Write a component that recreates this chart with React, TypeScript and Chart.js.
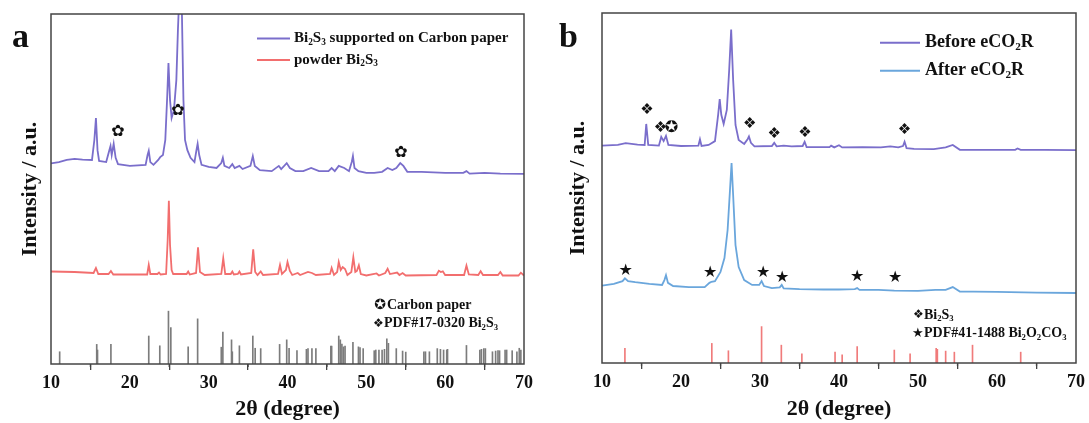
import React, { useEffect, useRef } from "react";
import { Chart, registerables } from "chart.js";

Chart.register(...registerables);

const SERIF = "'Liberation Serif', 'Times New Roman', serif";
const SYMF = "'DejaVu Sans', sans-serif";

// ---------- axis ticks ----------
const majorTicks = [10, 20, 30, 40, 50, 60, 70];
const minorTicks = [15, 25, 35, 45, 55, 65];

// ---------- panel a data (2θ, intensity a.u.) ----------
const carbonPaperBi2S3: [number, number][] = [
  [10, 57.3], [11, 57.7], [12, 58.3], [13, 58.6], [14, 58.4], [15.2, 58.3], [15.5, 64.0], [15.7, 70.3],
  [15.9, 61.1], [16.1, 58.0], [17, 57.7], [17.4, 61.1], [17.55, 62.3], [17.7, 59.7], [17.95, 62.9],
  [18.2, 58.9], [18.5, 57.1], [20, 56.6], [22, 56.9], [22.25, 59.7], [22.4, 60.9], [22.6, 57.7],
  [23, 56.9], [23.6, 58.3], [23.85, 59.1], [24.2, 59.7], [24.5, 64.0], [24.75, 76.9], [24.9, 86.0],
  [25.1, 75.4], [25.3, 70.3], [25.6, 72.6], [25.9, 81.1], [26.1, 95.4], [26.25, 104], [26.4, 125],
  [26.6, 101.1], [26.8, 75.4], [27.0, 64.0], [27.3, 61.1], [27.7, 58.9], [28.2, 57.7], [28.45, 61.1],
  [28.6, 62.9], [28.8, 59.7], [29.1, 56.9], [30, 56.3], [31, 56.0], [31.6, 57.4], [31.8, 58.9],
  [32.0, 56.6], [32.6, 56.0], [33.0, 57.1], [33.3, 56.0], [33.9, 56.6], [34.3, 55.7], [35.3, 56.6],
  [35.6, 59.4], [35.85, 56.6], [36.5, 55.4], [38, 55.1], [38.9, 56.6], [39.2, 55.7], [39.9, 57.4],
  [40.3, 56.0], [41, 55.1], [42, 55.1], [43, 56.0], [44, 55.1], [45.2, 55.1], [45.6, 56.0], [46, 55.1],
  [46.5, 56.6], [47.2, 56.0], [47.8, 55.1], [48.15, 57.7], [48.3, 59.4], [48.5, 56.0], [49, 55.1],
  [50, 54.6], [51, 54.6], [52, 54.9], [52.7, 56.0], [53.3, 55.4], [53.8, 56.0], [54.3, 57.4],
  [54.7, 56.6], [55.2, 54.9], [57, 54.9], [60, 54.6], [62.3, 54.6], [62.7, 55.1], [63.1, 54.4],
  [65, 54.6], [67, 54.4], [70, 54.3],
];

const powderBi2S3: [number, number][] = [
  [10, 26.43], [13, 26.29], [15.4, 26.0], [15.7, 27.43], [16.0, 25.71], [17.3, 25.71], [17.6, 26.57],
  [17.9, 25.57], [22.2, 25.57], [22.4, 28.29], [22.6, 25.71], [23.5, 25.71], [23.7, 26.14], [23.9, 25.57],
  [24.6, 25.71], [24.8, 35.43], [24.95, 46.66], [25.1, 34.0], [25.3, 26.86], [25.5, 25.71], [27.2, 25.71],
  [27.4, 26.43], [27.6, 25.57], [28.4, 26.0], [28.65, 33.34], [28.9, 26.29], [29.5, 25.43], [31.6, 25.71],
  [31.85, 30.2], [32.1, 25.71], [32.8, 25.71], [33.0, 26.43], [33.2, 25.57], [33.7, 25.71], [33.9, 26.43],
  [34.1, 25.57], [35.4, 26.0], [35.65, 32.77], [35.9, 26.29], [36.2, 25.43], [36.6, 26.43], [36.9, 25.43],
  [38.8, 25.71], [39.05, 28.29], [39.3, 25.71], [39.8, 26.86], [40.0, 29.14], [40.3, 26.57], [40.6, 25.43],
  [41.3, 26.0], [41.6, 25.43], [42.6, 26.29], [43.1, 26.0], [43.6, 25.43], [45.4, 25.71], [45.6, 27.43],
  [45.9, 25.43], [46.3, 26.29], [46.5, 29.14], [46.75, 26.86], [47.0, 27.71], [47.3, 27.14], [47.6, 25.43],
  [48.1, 26.29], [48.35, 30.49], [48.6, 26.29], [48.8, 26.57], [49.05, 28.2], [49.3, 25.71], [50, 25.29],
  [51.3, 25.86], [51.6, 25.29], [52.4, 26.0], [52.7, 27.23], [53.0, 25.71], [53.9, 26.14], [54.2, 25.43],
  [54.6, 26.0], [55, 25.29], [58.9, 25.43], [59.2, 26.66], [59.45, 26.29], [59.7, 26.49], [60, 25.43],
  [62.4, 25.43], [62.7, 28.09], [63.0, 25.57], [64.2, 25.43], [64.5, 26.49], [64.8, 25.43], [66.7, 25.43],
  [67.0, 26.29], [67.3, 25.29], [69.3, 25.29], [69.6, 26.09], [70, 25.29],
];

const pdf17_0320: [number, number][] = [
  [11.1, 3.5], [15.8, 5.6], [15.9, 4.0], [17.6, 5.6], [22.4, 8.0], [23.8, 5.2], [24.9, 15.1], [25.2, 10.4],
  [27.4, 4.9], [28.6, 12.9], [31.6, 4.8], [31.8, 9.1], [32.9, 6.9], [33.0, 3.5], [33.9, 5.2], [35.6, 8.0],
  [35.9, 4.5], [36.6, 4.4], [39.0, 5.6], [39.9, 6.9], [40.2, 4.5], [41.2, 3.8], [42.4, 4.2], [42.6, 4.4],
  [43.1, 4.4], [43.6, 4.4], [45.5, 5.1], [45.6, 5.1], [46.5, 8.0], [46.7, 6.9], [46.9, 5.7], [47.1, 4.9],
  [47.3, 5.1], [48.3, 6.2], [49.0, 4.9], [49.2, 4.7], [49.6, 4.4], [51.0, 3.8], [51.2, 4.0], [51.6, 4.0],
  [52.0, 4.0], [52.3, 4.2], [52.6, 7.2], [52.8, 5.9], [53.8, 4.4], [54.6, 3.7], [55.0, 3.4], [57.3, 3.5],
  [57.5, 3.5], [58.0, 3.5], [59.0, 4.4], [59.4, 4.2], [59.8, 4.0], [60.2, 4.0], [60.3, 4.2], [62.7, 5.3],
  [64.4, 4.0], [64.6, 4.2], [64.9, 4.4], [65.1, 4.4], [66.0, 3.5], [66.4, 3.7], [66.7, 3.8], [66.9, 3.8],
  [67.6, 4.0], [67.8, 4.0], [68.5, 3.8], [69.1, 3.5], [69.4, 4.5], [69.6, 4.0],
];

const carbonMarksA: [number, number][] = [[18.5, 66.2], [26.1, 72.3], [54.4, 60.2]];

// ---------- panel b data ----------
const beforeECO2R: [number, number][] = [
  [10, 62.1], [12, 62.3], [13, 62.8], [14.5, 62.4], [15.4, 62.3], [15.6, 68.3], [15.85, 62.3], [17.2, 62.1],
  [17.5, 64.6], [17.8, 63.4], [18.1, 64.9], [18.4, 62.3], [20, 62.0], [22.2, 62.1], [22.4, 63.9], [22.6, 62.0],
  [23.5, 62.3], [24.3, 63.4], [24.7, 70.9], [24.9, 75.4], [25.1, 70.9], [25.4, 68.3], [25.8, 72.3],
  [26.1, 83.7], [26.35, 95.3], [26.6, 80.9], [26.9, 68.0], [27.3, 63.7], [28.0, 62.6], [28.45, 64.0],
  [28.6, 64.7], [28.85, 62.9], [29.3, 61.9], [31.5, 62.0], [31.8, 62.9], [32.1, 61.9], [33, 62.1],
  [34, 61.9], [35.4, 62.0], [35.65, 63.2], [35.9, 61.7], [38.8, 61.7], [39.0, 62.1], [39.4, 61.6],
  [40.0, 62.2], [40.4, 61.6], [43, 61.7], [45.3, 61.6], [46.5, 61.9], [47.5, 61.6], [48.1, 62.0],
  [48.3, 63.2], [48.55, 61.4], [49.5, 61.2], [52, 61.1], [53.5, 61.6], [54.4, 62.3], [55.3, 60.9],
  [58, 60.9], [62.3, 60.9], [62.6, 61.3], [63, 60.9], [66, 60.9], [70, 60.8],
];

const afterECO2R: [number, number][] = [
  [10, 22.1], [11.5, 22.6], [12.6, 23.4], [12.9, 24.2], [13.3, 23.4], [14.2, 23.1], [16, 22.6], [17.6, 22.3],
  [17.9, 23.7], [18.1, 25.1], [18.35, 22.9], [19, 22.0], [21, 21.7], [23, 21.7], [23.6, 22.9], [23.85, 23.2],
  [24.3, 23.4], [25, 26.0], [25.5, 30.0], [25.9, 38.0], [26.2, 49.4], [26.4, 57.1], [26.6, 48.0],
  [26.9, 33.7], [27.3, 27.4], [28, 23.7], [29, 22.3], [29.9, 22.3], [30.2, 23.4], [30.5, 22.0],
  [31.5, 21.4], [32.5, 21.6], [32.75, 22.3], [33.0, 21.3], [35, 21.1], [38, 21.0], [40, 21.0], [42, 21.1],
  [42.3, 21.4], [42.6, 20.9], [45, 20.9], [47, 20.7], [50, 20.6], [52.2, 20.9], [53.5, 20.9], [54.4, 21.7],
  [55.3, 20.4], [57, 20.4], [60, 20.3], [65, 20.1], [70, 20.0],
];

const pdf41_1488: [number, number][] = [
  [12.9, 4.2], [23.9, 5.6], [26.0, 3.5], [30.2, 10.4], [32.7, 5.1], [35.3, 2.6], [39.5, 3.1], [40.4, 2.3],
  [42.3, 4.7], [47.0, 3.7], [49.0, 2.6], [52.3, 4.2], [52.45, 3.9], [53.5, 3.4], [54.6, 3.1], [56.9, 5.1],
  [63.0, 3.1],
];

const bi2s3MarksB: [number, number][] = [[15.7, 72.3], [17.4, 67.2], [28.7, 68.2], [31.8, 65.3], [35.7, 65.6], [48.3, 66.6]];
const carbonMarksB: [number, number][] = [[18.8, 67.2]];
const bi2o2co3MarksB: [number, number][] = [[13.0, 26.3], [23.7, 25.8], [30.4, 25.8], [32.8, 24.4], [42.3, 24.7], [47.1, 24.2]];

// ---------- colours ----------
const PURPLE = "#7a6ecb";
const RED = "#f26e6e";
const BLUE = "#6aa6dc";
const GRAY_STICK = "#7c7c7c";
const RED_STICK = "#f07b7b";

type Seg = [string, boolean];

function drawRich(ctx: CanvasRenderingContext2D, segs: Seg[], x: number, y: number, size: number) {
  let cx = x;
  ctx.textAlign = "left";
  ctx.textBaseline = "middle";
  for (const [t, sub] of segs) {
    const fs = sub ? size * 0.62 : size;
    ctx.font = `bold ${fs}px ${SERIF}`;
    ctx.fillText(t, cx, sub ? y + size * 0.27 : y);
    cx += ctx.measureText(t).width;
  }
}

interface PanelCfg {
  letter: string;
  letterX: number;
  legend: { color: string; segs: Seg[]; y: number }[];
  legendLineX: [number, number];
  legendTextX: number;
  legendSize: number;
  refLegend: { sym: string; symX: number; symSize: number; segs: Seg[]; textX: number; y: number }[];
  marks: { sym: string; size: number; pts: [number, number][] }[];
}

function makePlugin(cfg: PanelCfg) {
  return {
    id: "decor" + cfg.letter,
    afterDraw(chart: any) {
      const { ctx, chartArea } = chart;
      const { left, top, right, bottom } = chartArea;
      const xs = chart.scales.x;
      const ys = chart.scales.y;
      ctx.save();
      // frame
      ctx.strokeStyle = "#444";
      ctx.lineWidth = 1.5;
      ctx.strokeRect(left, top, right - left, bottom - top);
      // minor ticks
      ctx.lineWidth = 1.3;
      for (const t of minorTicks) {
        const px = xs.getPixelForValue(t);
        ctx.beginPath();
        ctx.moveTo(px, bottom);
        ctx.lineTo(px, bottom + 3);
        ctx.stroke();
      }
      // panel letter
      ctx.fillStyle = "#111";
      ctx.font = `bold 34px ${SERIF}`;
      ctx.textAlign = "left";
      ctx.textBaseline = "alphabetic";
      ctx.fillText(cfg.letter, cfg.letterX, 47);
      // series legend
      for (const item of cfg.legend) {
        ctx.strokeStyle = item.color;
        ctx.lineWidth = 2;
        ctx.beginPath();
        ctx.moveTo(cfg.legendLineX[0], item.y);
        ctx.lineTo(cfg.legendLineX[1], item.y);
        ctx.stroke();
        ctx.fillStyle = "#111";
        drawRich(ctx, item.segs, cfg.legendTextX, item.y, cfg.legendSize);
      }
      // reference legend
      for (const r of cfg.refLegend) {
        ctx.fillStyle = "#111";
        ctx.font = `bold ${r.symSize}px ${SYMF}`;
        ctx.textAlign = "center";
        ctx.textBaseline = "middle";
        ctx.fillText(r.sym, r.symX, r.y);
        drawRich(ctx, r.segs, r.textX, r.y, 14);
      }
      // peak markers
      for (const m of cfg.marks) {
        ctx.font = `bold ${m.size}px ${SYMF}`;
        ctx.textAlign = "center";
        ctx.textBaseline = "middle";
        ctx.fillStyle = "#111";
        for (const [dx, dy] of m.pts) {
          ctx.fillText(m.sym, xs.getPixelForValue(dx), ys.getPixelForValue(dy));
        }
      }
      ctx.restore();
    },
  };
}

function buildChart(
  canvas: HTMLCanvasElement,
  lines: { data: [number, number][]; color: string }[],
  sticks: { data: [number, number][]; color: string },
  pad: { top: number; right: number },
  yWidth: number,
  xHeight: number,
  yTitlePad: number,
  cfg: PanelCfg
) {
  const datasets: any[] = lines.map((l, i) => ({
    type: "line",
    data: l.data.map(([x, y]) => ({ x, y })),
    borderColor: l.color,
    borderWidth: 1.8,
    pointRadius: 0,
    tension: 0,
    fill: false,
    order: i,
  }));
  datasets.push({
    type: "bar",
    data: sticks.data.map(([x, y]) => ({ x, y })),
    backgroundColor: sticks.color,
    borderWidth: 0,
    barThickness: 1,
    grouped: false,
    order: 5,
  });
  return new Chart(canvas, {
    type: "line",
    data: { datasets },
    plugins: [makePlugin(cfg)],
    options: {
      animation: false,
      responsive: false,
      devicePixelRatio: 1,
      layout: { padding: { top: pad.top, right: pad.right, left: 0, bottom: 0 } },
      plugins: { legend: { display: false }, tooltip: { enabled: false } },
      scales: {
        x: {
          type: "linear",
          min: 10,
          max: 70,
          offset: false,
          afterFit: (s: any) => {
            s.height = xHeight;
          },
          afterBuildTicks: (s: any) => {
            s.ticks = majorTicks.map((v) => ({ value: v }));
          },
          ticks: {
            color: "#111",
            font: { family: SERIF, size: 18, weight: "bold" },
            padding: 3,
            maxRotation: 0,
          },
          grid: { display: true, drawOnChartArea: false, tickLength: 6, color: "#444", lineWidth: 1.3 },
          border: { display: false },
          title: {
            display: true,
            text: "2θ (degree)",
            color: "#111",
            font: { family: SERIF, size: 22, weight: "bold" },
            padding: { top: 0, bottom: 0 },
          },
        },
        y: {
          type: "linear",
          min: 0,
          max: 100,
          afterFit: (s: any) => {
            s.width = yWidth;
          },
          ticks: { display: false },
          grid: { display: false },
          border: { display: false },
          title: {
            display: true,
            text: "Intensity / a.u.",
            color: "#111",
            font: { family: SERIF, size: 22, weight: "bold" },
            padding: { top: yTitlePad, bottom: 0 },
          },
        },
      },
    } as any,
  });
}

export default function App() {
  const refA = useRef<HTMLCanvasElement>(null);
  const refB = useRef<HTMLCanvasElement>(null);

  useEffect(() => {
    const cfgA: PanelCfg = {
      letter: "a",
      letterX: 12,
      legend: [
        { color: PURPLE, y: 38.5, segs: [["Bi", false], ["2", true], ["S", false], ["3", true], [" supported on Carbon paper", false]] },
        { color: RED, y: 60, segs: [["powder Bi", false], ["2", true], ["S", false], ["3", true]] },
      ],
      legendLineX: [257, 290],
      legendTextX: 294,
      legendSize: 15,
      refLegend: [
        { sym: "✪", symX: 380, symSize: 14, segs: [["Carbon paper", false]], textX: 387, y: 305 },
        { sym: "❖", symX: 378.5, symSize: 12, segs: [["PDF#17-0320 Bi", false], ["2", true], ["S", false], ["3", true]], textX: 384, y: 323.5 },
      ],
      marks: [{ sym: "✿", size: 16, pts: carbonMarksA }],
    };
    const cfgB: PanelCfg = {
      letter: "b",
      letterX: 14,
      legend: [
        { color: PURPLE, y: 42.7, segs: [["Before eCO", false], ["2", true], ["R", false]] },
        { color: BLUE, y: 70.7, segs: [["After eCO", false], ["2", true], ["R", false]] },
      ],
      legendLineX: [335, 375],
      legendTextX: 380,
      legendSize: 18,
      refLegend: [
        { sym: "❖", symX: 373.3, symSize: 12, segs: [["Bi", false], ["2", true], ["S", false], ["3", true]], textX: 379, y: 315 },
        { sym: "★", symX: 372.8, symSize: 13, segs: [["PDF#41-1488 Bi", false], ["2", true], ["O", false], ["2", true], ["CO", false], ["3", true]], textX: 379, y: 333.5 },
      ],
      marks: [
        { sym: "❖", size: 15, pts: bi2s3MarksB },
        { sym: "✪", size: 16, pts: carbonMarksB },
        { sym: "★", size: 16, pts: bi2o2co3MarksB },
      ],
    };
    const a = buildChart(
      refA.current!,
      [
        { data: carbonPaperBi2S3, color: PURPLE },
        { data: powderBi2S3, color: RED },
      ],
      { data: pdf17_0320, color: GRAY_STICK },
      { top: 14, right: 21 },
      51,
      59,
      17,
      cfgA
    );
    const b = buildChart(
      refB.current!,
      [
        { data: beforeECO2R, color: PURPLE },
        { data: afterECO2R, color: BLUE },
      ],
      { data: pdf41_1488, color: RED_STICK },
      { top: 13, right: 13 },
      57,
      60,
      20,
      cfgB
    );
    return () => {
      a.destroy();
      b.destroy();
    };
  }, []);

  return (
    <div style={{ position: "absolute", left: 0, top: 0, width: 1089, height: 423, background: "#fff", overflow: "hidden" }}>
      <canvas ref={refA} width={545} height={423} style={{ position: "absolute", left: 0, top: 0, width: 545, height: 423 }} />
      <canvas ref={refB} width={544} height={423} style={{ position: "absolute", left: 545, top: 0, width: 544, height: 423 }} />
    </div>
  );
}
